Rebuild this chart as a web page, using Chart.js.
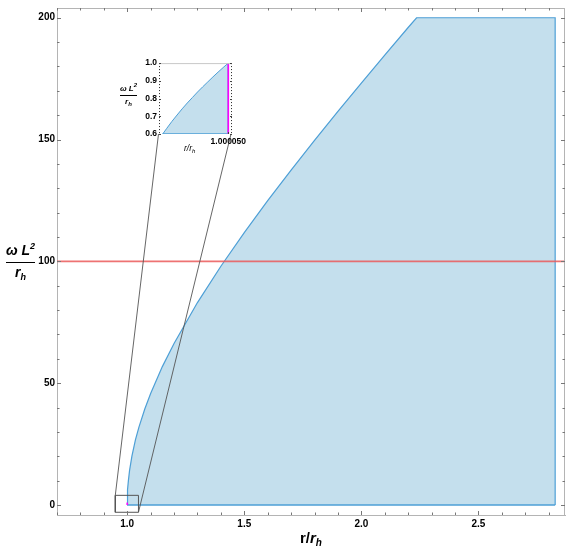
<!DOCTYPE html>
<html><head><meta charset="utf-8">
<script src="https://cdn.jsdelivr.net/npm/chart.js@4.4.1/dist/chart.umd.min.js"></script>
<style>
html,body{margin:0;padding:0;background:#fff;}
#wrap{position:relative;width:573px;height:551px;overflow:hidden;font-family:"Liberation Sans",Arial,sans-serif;}
#main{position:absolute;left:0;top:0;}
#inset{position:absolute;left:135px;top:56px;}
.frac{position:absolute;display:flex;flex-direction:column;align-items:center;font-weight:bold;font-style:italic;color:#000;white-space:nowrap;}
.frac .bar{align-self:stretch;border-top:1.5px solid #000;}
.sup{position:relative;}
.sub{position:relative;}
.ttl{position:absolute;font-weight:bold;color:#000;white-space:nowrap;}
</style></head>
<body>
<div id="wrap">
  <canvas id="main" width="573" height="551"></canvas>
  <canvas id="inset" width="120" height="100"></canvas>
  <div class="frac" style="left:6px;top:243px;width:29px;font-size:14px;line-height:14px;">
    <div style="margin-bottom:3px;">ω L<span class="sup" style="font-size:9px;top:-6px;">2</span></div>
    <div class="bar"></div>
    <div style="margin-top:2px;">r<span class="sub" style="font-size:9px;top:3px;">h</span></div>
  </div>
  <div class="ttl" style="left:300px;top:530px;font-size:15px;line-height:15px;">r/<i>r</i><span class="sub" style="font-size:10px;top:3px;font-style:italic;">h</span></div>
  <div class="frac" style="left:120px;top:84px;width:17px;font-size:8px;line-height:9px;">
    <div style="margin-bottom:1px;">ω L<span class="sup" style="font-size:6px;top:-4px;">2</span></div>
    <div class="bar" style="border-top-width:1px;"></div>
    <div style="margin-top:1px;">r<span class="sub" style="font-size:6px;top:2px;">h</span></div>
  </div>
  <div class="ttl" style="left:184px;top:144px;font-size:8.5px;line-height:9px;font-style:italic;font-weight:normal;">r/r<span class="sub" style="font-size:6px;top:2px;">h</span></div>
</div>
<script>
// ---- main chart data ----
const curveX = [1.0, 1.0005, 1.002, 1.005, 1.01, 1.02, 1.035, 1.05, 1.075, 1.1, 1.15, 1.2, 1.3, 1.4, 1.5, 1.6, 1.7, 1.8, 1.9, 2.0, 2.1, 2.2, 2.236];
const curveY = [0, 3.2, 6.3, 10.0, 14.2, 20.1, 26.7, 32.0, 39.4, 45.8, 56.8, 66.3, 83.1, 98.0, 111.8, 124.9, 137.5, 149.7, 161.6, 173.2, 184.7, 196.0, 200];
const capX = [2.828, 2.828];
const capY = [200, 0];
const baseX = [1.0, 2.828];
const baseY = [0, 0];
const refX = [0.7, 2.87];
const refY = [100, 100];
const markX = [1.00005, 1.00005];
const markY = [0, 1];
const boxX = [0.949, 1.048, 1.048, 0.949, 0.949];
const boxY = [-2.98, -2.98, 3.97, 3.97, -2.98];
const xTickValues = [1.0, 1.5, 2.0, 2.5];
const xTickLabels = ['1.0', '1.5', '2.0', '2.5'];
const yTickValues = [0, 50, 100, 150, 200];
const yTickLabels = ['0', '50', '100', '150', '200'];

// ---- inset data: x in units of 1e-6 of (r/r_h - 1) ----
const insetX = [18, 20, 22.5, 25, 27.5, 30, 32.5, 35, 37.5, 40, 42.5, 45, 47.5, 50];
const insetY = [0.6, 0.632, 0.671, 0.707, 0.742, 0.775, 0.806, 0.837, 0.866, 0.894, 0.922, 0.949, 0.975, 1.0];
const insetEdgeX = [50];
const insetEdgeY = [0.6];
const insetBaseX = [18, 50];
const insetBaseY = [0.6, 0.6];
const insetMarkX = [50, 50];
const insetMarkY = [0.6, 1.0];
const insetXTickValues = [50];
const insetXTickLabels = ['1.000050'];
const insetYTickValues = [0.6, 0.7, 0.8, 0.9, 1.0];
const insetYTickLabels = ['0.6', '0.7', '0.8', '0.9', '1.0'];

const BLUE = '#4d9fd6';
const FILL = 'rgba(196,223,237,1)';
const FONT = '"Liberation Sans", Arial, sans-serif';
const pts = (xs, ys) => xs.map((x, i) => ({x: x, y: ys[i]}));
const INSET_LEFT = 135, INSET_TOP = 56;

// ---------------- inset chart ----------------
const insetPlugin = {
  id: 'insetFrame',
  beforeDraw(chart) {
    const a = chart.chartArea, c = chart.ctx;
    c.save(); c.fillStyle = '#fff';
    c.fillRect(a.left, a.top, a.right - a.left, a.bottom - a.top);
    c.restore();
  },
  afterDraw(chart) {
    const a = chart.chartArea, c = chart.ctx, ys = chart.scales.y, xs = chart.scales.x;
    c.save();
    c.strokeStyle = '#c8c8c8'; c.lineWidth = 1;
    c.beginPath(); c.moveTo(a.left, a.top + 0.5); c.lineTo(a.right, a.top + 0.5); c.stroke();
    c.strokeStyle = '#222'; c.setLineDash([1, 2]);
    c.beginPath();
    c.moveTo(a.left + 0.5, a.top); c.lineTo(a.left + 0.5, a.bottom);
    c.moveTo(a.right - 0.5, a.top); c.lineTo(a.right - 0.5, a.bottom);
    c.stroke();
    c.setLineDash([]);
    c.strokeStyle = '#444';
    c.beginPath();
    insetYTickValues.forEach(v => {
      const p = Math.round(ys.getPixelForValue(v)) + 0.5;
      c.moveTo(a.left, p); c.lineTo(a.left + 2, p);
      c.moveTo(a.right, p); c.lineTo(a.right - 2, p);
    });
    insetXTickValues.forEach(v => {
      const p = Math.round(xs.getPixelForValue(v)) + 0.5;
      c.moveTo(p, a.bottom); c.lineTo(p, a.bottom - 2);
    });
    c.stroke();
    c.restore();
  }
};

const insetChart = new Chart(document.getElementById('inset'), {
  type: 'scatter',
  data: {
    datasets: [
      {data: pts(insetX.concat(insetEdgeX), insetY.concat(insetEdgeY)), showLine: true, borderColor: BLUE, borderWidth: 1,
       backgroundColor: FILL, fill: {value: 0.6}, pointRadius: 0, tension: 0, order: 5},
      {data: pts(insetBaseX, insetBaseY), showLine: true, borderColor: BLUE, borderWidth: 1.5, pointRadius: 0, fill: false, order: 3},
      {data: pts(insetMarkX, insetMarkY), showLine: true, borderColor: '#ff00ff', borderWidth: 1.6, pointRadius: 0, fill: false, order: 1}
    ]
  },
  options: {
    responsive: false, animation: false, devicePixelRatio: 1,
    layout: {padding: {left: 0, top: 6, right: 23, bottom: 0}},
    plugins: {legend: {display: false}, tooltip: {enabled: false}},
    scales: {
      x: {type: 'linear', min: 16.2, max: 51.8,
          grid: {display: false, drawTicks: false}, border: {display: false},
          ticks: {padding: 3, color: '#000', font: {family: FONT, size: 8.5, weight: 'bold'}, maxRotation: 0, autoSkip: false,
                  callback: (v, i) => insetXTickLabels[i]},
          afterBuildTicks: s => { s.ticks = insetXTickValues.map(v => ({value: v})); },
          afterFit: s => { s.height = 22; }},
      y: {type: 'linear', min: 0.6, max: 1.0,
          grid: {display: false, drawTicks: false}, border: {display: false},
          ticks: {padding: 2, color: '#000', font: {family: FONT, size: 8.5, weight: 'bold'}, autoSkip: false,
                  callback: (v, i) => insetYTickLabels[i]},
          afterBuildTicks: s => { s.ticks = insetYTickValues.map(v => ({value: v})); },
          afterFit: s => { s.width = 24; }}
    }
  },
  plugins: [insetPlugin]
});

// ---------------- main chart ----------------
const mainPlugin = {
  id: 'mainFrame',
  afterDatasetsDraw(chart) {
    const a = chart.chartArea, c = chart.ctx, xs = chart.scales.x, ys = chart.scales.y;
    c.save();
    c.strokeStyle = '#b4b4b4'; c.lineWidth = 1;
    c.beginPath();
    c.moveTo(a.left, a.top + 0.5); c.lineTo(a.right, a.top + 0.5);
    c.moveTo(a.right - 0.5, a.top); c.lineTo(a.right - 0.5, a.bottom);
    c.stroke();
    c.strokeStyle = '#777';
    c.beginPath();
    for (let k = 7; k <= 28; k++) {
      const v = k / 10;
      const major = xTickValues.some(t => Math.abs(t - v) < 1e-9);
      const L = major ? 4 : 2.5;
      const p = Math.round(xs.getPixelForValue(v)) + 0.5;
      c.moveTo(p, a.bottom); c.lineTo(p, a.bottom - L);
      c.moveTo(p, a.top); c.lineTo(p, a.top + L);
    }
    for (let k = 0; k <= 20; k++) {
      const v = k * 10;
      const major = yTickValues.indexOf(v) >= 0;
      const L = major ? 4 : 2.5;
      const p = Math.round(ys.getPixelForValue(v)) + 0.5;
      c.moveTo(a.left, p); c.lineTo(a.left + L, p);
      c.moveTo(a.right, p); c.lineTo(a.right - L, p);
    }
    c.stroke();
    const ia = insetChart.chartArea;
    c.strokeStyle = '#555'; c.lineWidth = 0.9;
    c.beginPath();
    c.moveTo(xs.getPixelForValue(boxX[0]), ys.getPixelForValue(boxY[2]));
    c.lineTo(ia.left + INSET_LEFT - 0.5, ia.bottom + INSET_TOP);
    c.moveTo(xs.getPixelForValue(boxX[1]), ys.getPixelForValue(boxY[1]));
    c.lineTo(ia.right + INSET_LEFT - 1, ia.bottom + INSET_TOP);
    c.stroke();
    c.restore();
  }
};

new Chart(document.getElementById('main'), {
  type: 'scatter',
  data: {
    datasets: [
      {data: pts(curveX.concat(capX), curveY.concat(capY)), showLine: true, borderColor: BLUE, borderWidth: 1.2,
       backgroundColor: FILL, fill: 'origin', pointRadius: 0, tension: 0, order: 6},
      {data: pts(baseX, baseY), showLine: true, borderColor: BLUE, borderWidth: 1.5, pointRadius: 0, fill: false, order: 5},
      {data: pts(refX, refY), showLine: true, borderColor: 'rgba(235,90,90,0.85)', borderWidth: 1.6, pointRadius: 0, fill: false, order: 3},
      {data: pts(markX, markY), showLine: true, borderColor: '#ff00ff', borderWidth: 1.6, pointRadius: 0, fill: false, order: 2},
      {data: pts(boxX, boxY), showLine: true, borderColor: '#555', borderWidth: 1, pointRadius: 0, fill: false, tension: 0, order: 1}
    ]
  },
  options: {
    responsive: false, animation: false, devicePixelRatio: 1,
    layout: {padding: {left: 0, top: 6, right: 8, bottom: 0}},
    plugins: {legend: {display: false}, tooltip: {enabled: false}},
    scales: {
      x: {type: 'linear', min: 0.7, max: 2.87,
          grid: {display: false, drawTicks: false}, border: {display: true, color: '#b4b4b4', width: 1},
          ticks: {padding: 3, color: '#000', font: {family: FONT, size: 10, weight: 'bold'}, maxRotation: 0, autoSkip: false,
                  callback: (v, i) => xTickLabels[i]},
          afterBuildTicks: s => { s.ticks = xTickValues.map(v => ({value: v})); },
          afterFit: s => { s.height = 36; }},
      y: {type: 'linear', min: -4.1, max: 204,
          grid: {display: false, drawTicks: false}, border: {display: true, color: '#b4b4b4', width: 1},
          ticks: {padding: 2, color: '#000', font: {family: FONT, size: 10, weight: 'bold'}, autoSkip: false,
                  callback: (v, i) => yTickLabels[i]},
          afterBuildTicks: s => { s.ticks = yTickValues.map(v => ({value: v})); },
          afterFit: s => { s.width = 57; }}
    }
  },
  plugins: [mainPlugin]
});
</script>
</body></html>
